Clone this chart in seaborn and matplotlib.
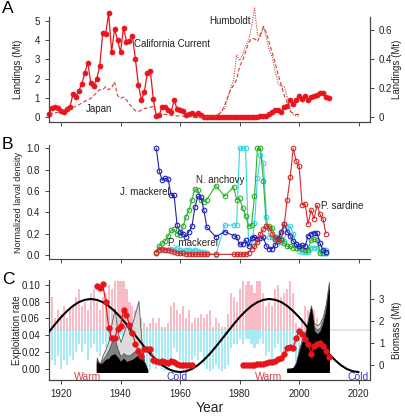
import numpy as np
import seaborn as sns
import matplotlib.pyplot as plt

# ---------------- panel A: landings ----------------
cc_years = list(range(1916, 2011))
cc_landings = [0.17, 0.50, 0.55, 0.50, 0.31, 0.26, 0.43, 0.53, 1.19, 1.04,
               1.38, 1.74, 2.30, 2.83, 1.78, 1.62, 2.00, 2.64, 4.35, 4.32,
               5.39, 3.40, 4.58, 3.99, 3.37, 4.64, 3.92, 3.95, 4.21, 3.00,
               1.69, 0.90, 1.30, 2.31, 2.40, 0.96, 0.08, 0.12, 0.55, 0.55,
               0.36, 0.28, 0.88, 0.43, 0.36, 0.34, 0.13, 0.17, 0.22, 0.13,
               0.22, 0.13,
               0, 0, 0, 0, 0, 0, 0, 0, 0, 0, 0, 0, 0, 0, 0, 0, 0,
               0.03, 0.04, 0.05, 0.06, 0.08, 0.16, 0.30, 0.40, 0.37, 0.25,
               0.55, 0.58, 0.90, 0.70, 0.90, 1.08, 0.96, 1.09, 0.90, 1.04,
               1.09, 1.16, 1.26, 1.24, 1.04, 1.02]
japan_years = list(range(1916, 2001))
japan_landings = [0.02, 0.025, 0.03, 0.035, 0.04, 0.05, 0.055, 0.06, 0.069, 0.075,
                  0.085, 0.10, 0.11, 0.12, 0.13, 0.15, 0.17, 0.19, 0.19, 0.21,
                  0.19, 0.20, 0.245, 0.15, 0.13, 0.14, 0.12, 0.09, 0.065, 0.045,
                  0.04, 0.05, 0.06, 0.065, 0.07, 0.075, 0.03, 0.025, 0.02, 0.02,
                  0.015, 0.015, 0.01, 0.01, 0.01, 0.008, 0.006, 0.005, 0.004, 0.003,
                  0.002, 0.002, 0.002, 0.002, 0.002, 0.003, 0.01, 0.02, 0.04, 0.085,
                  0.14, 0.19, 0.22, 0.26, 0.35, 0.39, 0.45, 0.51, 0.54, 0.54,
                  0.52, 0.57, 0.62, 0.58, 0.51, 0.44, 0.37, 0.29, 0.22, 0.15,
                  0.10, 0.04, 0.03, 0.02, 0.02]
humboldt_years = list(range(1965, 2001))
humboldt_landings = [0.0, 0.0, 0.0, 0.0, 0.0,
                     0.0, 0.005, 0.01, 0.027, 0.04, 0.062, 0.13, 0.20, 0.26, 0.43,
                     0.39, 0.43, 0.49, 0.53, 0.62, 0.75, 0.57, 0.55, 0.63, 0.54,
                     0.46, 0.41, 0.31, 0.23, 0.21, 0.21, 0.14, 0.05, 0.02, 0.01,
                     0.01]

# ---------------- panel B: larval density ----------------
b_years = list(range(1952, 1970)) + [1972, 1975, 1978] + list(range(1979, 2010))
jack_mackerel = [1.0, 0.79, 0.70, 0.72, 0.71, 0.56, 0.56, 0.28, 0.22, 0.20,
                 0.17, 0.22, 0.27, 0.45, 0.55, 0.54, 0.42, 0.26,
                 0.17, 0.22, 0.18,
                 0.17, 0.10, 0.10, 0.14, 0.08, 0.16, 0.17, 0.15, 0.16, 0.17,
                 0.08, 0.06, 0.06, 0.09, 0.15, 0.22, 0.29, 0.22, 0.18, 0.13,
                 0.10, 0.08, 0.09, 0.08, 0.18, 0.20, 0.21, 0.21, 0.11, 0.05, 0.03]
anchovy = [0.03, 0.08, 0.11, 0.13, 0.18, 0.23, 0.24, 0.20, 0.19, 0.27,
           0.36, 0.42, 0.52, 0.62, 0.61, 0.52, 0.50, 0.52,
           0.65, 0.55, 0.64,
           0.52, 0.53, 0.44, 0.37, 0.27, 0.28, 0.55, 1.0, 1.0, 0.69,
           0.27, 0.27, 0.25, 0.17, 0.17, 0.14, 0.11, 0.08, 0.08, 0.07,
           0.07, 0.07, 0.06, 0.05, 0.05, 0.14, 0.15, 0.14, 0.02, 0.02, 0.02]
pac_mackerel = [0.02, 0.06, 0.05, 0.05, 0.05, 0.06, 0.05, 0.07, 0.05, 0.04,
                0.05, 0.05, 0.04, 0.05, 0.04, 0.03, 0.03, 0.02,
                0.0, 0.28, 0.28,
                0.28, 1.0, 1.0, 1.0, 0.12, 0.08, 0.30, 0.72, 0.94, 0.86,
                0.36, 0.17, 0.17, 0.13, 0.12, 0.12, 0.13, 0.26, 0.27, 0.20,
                0.10, 0.04, 0.03, 0.03, 0.03, 0.07, 0.07, 0.07, 0.03, 0.02, 0.05]
sardine_years = [y for y in b_years if y != 1975]
sardine = [0.02, 0.05, 0.06, 0.05, 0.045, 0.04, 0.03, 0.02, 0.015, 0.015,
           0.012, 0.01, 0.008, 0.006, 0.006, 0.006, 0.006, 0.006,
           0.006, 0.006,
           0.006, 0.006, 0.006, 0.006, 0.02, 0.06, 0.08, 0.12, 0.20, 0.24,
           0.27, 0.25, 0.20, 0.15, 0.13, 0.15, 0.29, 0.52, 0.73, 1.0,
           0.88, 0.83, 0.47, 0.48, 0.29, 0.42, 0.34, 0.47, 0.38, 0.34, 0.20]

# ---------------- panel C ----------------
PDO_BASE = 0.046
pdo_years = list(range(1916, 2011))
pdo_warm = [0.075, 0.085, 0.06, 0.07, 0.065, 0.075, 0.06, 0.07, 0.075, 0.085,
            0.095, 0.075, 0.08, 0.07, 0.09, 0.095, 0.08, 0.07, 0.085, 0.09,
            0.10, 0.095, 0.105, 0.105, 0.105, 0.105, 0.095, 0.08, 0.075, 0.07,
            0.065, 0.06, 0.055, 0.05, 0.055, 0.06, 0.055, 0.06, 0.05, 0.05,
            0.055, 0.075, 0.08, 0.07, 0.065, 0.075, 0.06, 0.07, 0.055, 0.06,
            0.06, 0.065, 0.06, 0.065, 0.07, 0.05, 0.06, 0.055, 0.05, 0.05,
            0.065, 0.09, 0.085, 0.08, 0.095, 0.105, 0.10, 0.105, 0.10, 0.09,
            0.105, 0.105, 0.09, 0.075, 0.08, 0.075, 0.095, 0.10, 0.085, 0.09,
            0.095, 0.105, 0.09, 0.055, 0.05, 0.06, 0.075, 0.07, 0.065, 0.07,
            0.06, 0.055, 0.05, 0.055, 0.06]
pdo_cold = [0.0, 0.01, 0.005, 0.015, 0.0, 0.01, 0.005, 0.015, 0.01, 0.02,
            0.03, 0.02, 0.03, 0.01, 0.025, 0.03, 0.02, 0.015, 0.03, 0.025,
            0.03, 0.035, 0.03, 0.035, 0.04, 0.035, 0.025, 0.02, 0.03, 0.025,
            0.02, 0.01, 0.005, 0.0, -0.002, 0.005, 0.0, 0.01, 0.0, -0.003,
            0.0, 0.01, 0.025, 0.02, 0.01, 0.0, -0.003, 0.005, 0.01, 0.015,
            0.01, 0.02, 0.005, 0.0, -0.003, 0.0, 0.005, 0.0, -0.003, 0.0,
            0.005, 0.025, 0.03, 0.03, 0.035, 0.03, 0.035, 0.035, 0.03, 0.025,
            0.03, 0.035, 0.03, 0.015, 0.02, 0.01, 0.025, 0.03, 0.02, 0.02,
            0.025, 0.03, 0.02, 0.005, 0.01, 0.005, 0.015, 0.025, 0.02, 0.02,
            0.01, 0.02, 0.0, 0.01, 0.02]

cycle_years = list(range(1916, 2021, 2))
cycle = [0.0440, 0.0529, 0.0613, 0.0686, 0.0747, 0.0793, 0.0820, 0.0830, 0.0820, 0.0793,
         0.0747, 0.0686, 0.0613, 0.0529, 0.0440, 0.0350, 0.0261, 0.0178, 0.0104, 0.0043,
         -0.0003, -0.0030, -0.0040, -0.0030, -0.0003, 0.0043, 0.0104, 0.0178, 0.0261, 0.0350,
         0.0440, 0.0529, 0.0613, 0.0686, 0.0747, 0.0793, 0.0820, 0.0830, 0.0820, 0.0793,
         0.0747, 0.0686, 0.0613, 0.0529, 0.0440, 0.0350, 0.0261, 0.0178, 0.0104, 0.0043,
         -0.0003, -0.0030, -0.0040]

expl_years_1 = list(range(1932, 1965))
expl_1 = [0.098, 0.096, 0.101, 0.080, 0.049, 0.036, 0.036, 0.047, 0.051, 0.070,
          0.064, 0.052, 0.042, 0.030, 0.021, 0.015, 0.024, 0.024, 0.024, 0.010,
          0.009, 0.008, 0.009, 0.008, 0.007, 0.009, 0.008, 0.006, 0.005, 0.004,
          0.004, 0.004, 0.004]
expl_years_2 = list(range(1981, 2011))
expl_2 = [0.0044, 0.0044, 0.0044, 0.0046, 0.0048, 0.0052, 0.0056, 0.006, 0.0067, 0.0075,
          0.0083, 0.0095, 0.011, 0.013, 0.017, 0.025, 0.026, 0.025, 0.036, 0.045,
          0.041, 0.035, 0.030, 0.018, 0.027, 0.029, 0.031, 0.027, 0.021, 0.014]

BIO_FLOOR = -0.3
bio_years_1 = list(range(1932, 1950))
bio_black_1 = [0.15, 0.05, 0.10, 0.25, 0.30, 0.45, 0.50, 0.35, 0.15, 0.30, 0.15, 0.20, 0.25, 0.35, 0.45, 0.30, 0.10, -0.20]
bio_grey_1 = [0.25, 0.10, 0.25, 0.45, 0.70, 1.05, 1.20, 0.75, 0.40, 0.55, 0.45, 0.45, 0.55, 0.65, 0.80, 0.50, 0.15, -0.20]
bio_light_1 = [0.35, 0.00, 0.45, 0.75, 1.10, 1.90, 2.55, 1.50, 1.05, 1.45, 1.85, 1.45, 1.95, 2.40, 2.90, 1.10, 0.10, -0.20]
bio_years_2 = list(range(1996, 2011))
bio_black_2 = [-0.15, -0.15, -0.12, 0.05, 0.55, 1.00, 1.25, 1.90, 2.55, 1.55, 1.40, 1.50, 1.85, 2.40, 3.40]
bio_grey_2 = [-0.15, -0.15, -0.12, 0.10, 0.65, 1.10, 1.35, 2.00, 2.65, 1.75, 1.60, 1.70, 2.05, 2.65, 3.60]
bio_light_2 = [-0.15, -0.15, -0.12, 0.15, 0.75, 1.20, 1.45, 2.10, 2.70, 1.90, 1.80, 1.90, 2.20, 2.80, 3.75]

# ---------------- style ----------------
sns.set_style("ticks")
plt.rcParams['font.family'] = ['Liberation Sans', 'DejaVu Sans']
AXC = '#444444'
TXT = '#222222'
RED = '#E8141C'
DARKRED = '#C8423A'

fig = plt.figure(figsize=(4.06, 4.16), dpi=100)
XLIM = (1915.97, 2023.8)
YEAR_TICKS = list(range(1920, 2021, 20))


def style(ax, left=True, right=False):
    ax.spines['top'].set_visible(False)
    ax.spines['left'].set_visible(left)
    ax.spines['right'].set_visible(right)
    for s in ax.spines.values():
        s.set_color(AXC)
        s.set_linewidth(0.8)
    ax.tick_params(colors=AXC, labelcolor=TXT, labelsize=7, length=3, width=0.7)
    ax.set_xlim(*XLIM)
    ax.set_xticks(YEAR_TICKS)


# ---- A ----
ax_a = fig.add_axes([0.1207, 0.7067, 0.7906, 0.2532])
ax_a2 = ax_a.twinx()
sns.lineplot(x=cc_years, y=cc_landings, ax=ax_a, color=RED, lw=0.9, marker='o',
             markersize=3.6, markeredgecolor=RED, markeredgewidth=0.5, clip_on=False)
sns.lineplot(x=japan_years, y=japan_landings, ax=ax_a2, color=DARKRED, lw=0.8,
             linestyle=(0, (3.5, 2)), clip_on=False)
sns.lineplot(x=humboldt_years, y=humboldt_landings, ax=ax_a2, color=DARKRED, lw=0.8,
             linestyle=(0, (1, 1.2)), clip_on=False)
style(ax_a, left=True, right=True)
style(ax_a2, left=True, right=True)
ax_a.set_ylim(-0.243, 5.21)
ax_a2.set_ylim(-0.032, 0.691)
ax_a.set_yticks([0, 1, 2, 3, 4, 5])
ax_a2.set_yticks([0, 0.2, 0.4, 0.6])
ax_a2.set_yticklabels(['0', '0.2', '0.4', '0.6'])
ax_a.tick_params(labelbottom=False)
ax_a.set_ylabel('Landings (Mt)', fontsize=7, color=TXT)
ax_a2.set_ylabel('Landings (Mt)', fontsize=7, color=TXT)
ax_a.yaxis.set_label_coords(-0.08, 0.5)
ax_a2.yaxis.set_label_coords(1.07, 0.5)
ax_a.text(1957.2, 3.78, 'California Current', fontsize=7, color=TXT, ha='center', va='center')
ax_a.text(1932.9, 0.41, 'Japan', fontsize=7, color=TXT, ha='center', va='center')
ax_a.text(1976.8, 5.0, 'Humboldt', fontsize=7, color=TXT, ha='center', va='center')

# ---- B ----
ax_b = fig.add_axes([0.1207, 0.3767, 0.7906, 0.2747])
b_series = [(b_years, pac_mackerel, '#35D5E6'),
            (b_years, anchovy, '#2DB02D'),
            (b_years, jack_mackerel, '#2121B8'),
            (sardine_years, sardine, '#D42A2A')]
for yrs, vals, col in b_series:
    sns.lineplot(x=yrs, y=vals, ax=ax_b, color=col, lw=0.8, marker='o', markersize=3.3,
                 markerfacecolor='none', markeredgecolor=col, markeredgewidth=0.8)
style(ax_b)
ax_b.set_ylim(-0.0403, 1.031)
ax_b.set_yticks([0, 0.2, 0.4, 0.6, 0.8, 1.0])
ax_b.set_yticklabels(['0.0', '0.2', '0.4', '0.6', '0.8', '1.0'])
ax_b.tick_params(labelbottom=False)
ax_b.set_ylabel('Normalized larval density', fontsize=6.5, color=TXT)
ax_b.yaxis.set_label_coords(-0.08, 0.5)
ax_b.text(1948.2, 0.59, 'J. mackerel', fontsize=7, color=TXT, ha='center', va='center')
ax_b.text(1973.4, 0.70, 'N. anchovy', fontsize=7, color=TXT, ha='center', va='center')
ax_b.text(1964.2, 0.11, 'P. mackerel', fontsize=7, color=TXT, ha='center', va='center')
ax_b.text(2014.5, 0.46, 'P. sardine', fontsize=7, color=TXT, ha='center', va='center')

# ---- C ----
ax_c = fig.add_axes([0.1207, 0.0865, 0.7906, 0.2404])
ax_cb = ax_c.twinx()
ax_ct = ax_c.twinx()
warm = np.array(pdo_warm) - PDO_BASE
cold = np.array(pdo_cold) - PDO_BASE
ax_c.axhline(PDO_BASE, color='#E6E6E6', lw=1.5, zorder=0.5)
ax_c.bar(pdo_years, warm, bottom=PDO_BASE, width=0.7, color='#F9BCC6', linewidth=0)
ax_c.bar(pdo_years, cold, bottom=PDO_BASE, width=0.7, color='#A8EBF4', linewidth=0)

for yrs, blk, gry, lgt in [(bio_years_1, bio_black_1, bio_grey_1, bio_light_1),
                           (bio_years_2, bio_black_2, bio_grey_2, bio_light_2)]:
    ax_cb.fill_between(yrs, BIO_FLOOR, lgt, facecolor='#DCDCDC', edgecolor='#555555', lw=0.6)
    ax_cb.fill_between(yrs, BIO_FLOOR, gry, facecolor='#808080', edgecolor='#555555', lw=0.6)
    ax_cb.fill_between(yrs, BIO_FLOOR, blk, facecolor='black', edgecolor='black', lw=0.6)

sns.lineplot(x=cycle_years, y=cycle, ax=ax_ct, color='black', lw=1.5)
for yrs, vals in [(expl_years_1, expl_1), (expl_years_2, expl_2)]:
    sns.lineplot(x=yrs, y=vals, ax=ax_ct, color=RED, lw=0.9, marker='o', markersize=4.0,
                 markeredgecolor=RED, markeredgewidth=0.5, clip_on=False)

style(ax_c, left=True, right=True)
style(ax_cb, left=True, right=True)
ax_c.set_ylim(-0.01345, 0.1056)
ax_ct.set_ylim(-0.01345, 0.1056)
ax_ct.set_xlim(*XLIM)
ax_ct.axis('off')
ax_cb.set_ylim(-0.662, 3.84)
ax_c.set_yticks([0, 0.02, 0.04, 0.06, 0.08, 0.10])
ax_c.set_yticklabels(['0.00', '0.02', '0.04', '0.06', '0.08', '0.10'])
ax_cb.set_yticks([0, 1, 2, 3])
ax_c.set_xticklabels([str(y) for y in YEAR_TICKS])
ax_c.set_ylabel('Exploitation rate', fontsize=7, color=TXT)
ax_cb.set_ylabel('Biomass (Mt)', fontsize=7, color=TXT)
ax_c.yaxis.set_label_coords(-0.085, 0.5)
ax_cb.yaxis.set_label_coords(1.07, 0.5)
for xpos, word, col in [(1928.8, 'Warm', '#D8404A'), (1959.1, 'Cold', '#3B3BC8'),
                        (1989.6, 'Warm', '#D8404A'), (2019.9, 'Cold', '#3B3BC8')]:
    ax_ct.text(xpos, -0.0102, word, fontsize=7.5, color=col, ha='center', va='center')

fig.text(0.516, 0.019, 'Year', fontsize=10, color=TXT, ha='center', va='center')
fig.text(0.005, 0.997, 'A', fontsize=12.5, color='black', va='top')
fig.text(0.005, 0.670, 'B', fontsize=12.5, color='black', va='top')
fig.text(0.005, 0.346, 'C', fontsize=12.5, color='black', va='top')

fig.savefig('out.png', dpi=100)
